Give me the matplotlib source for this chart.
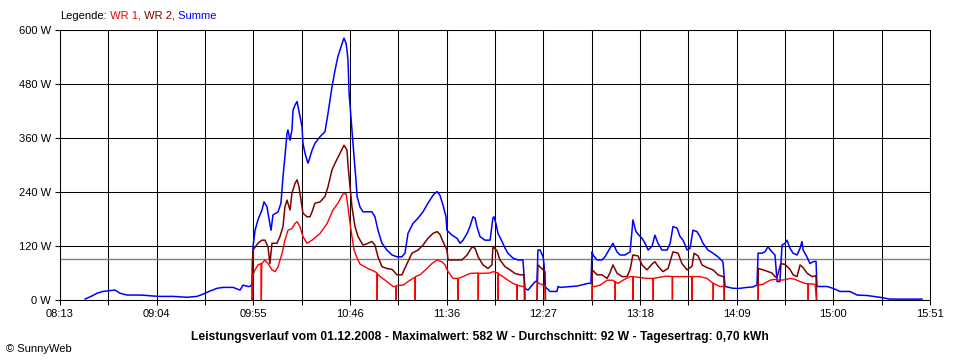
import numpy as np
import matplotlib.pyplot as plt

plt.rcParams['font.family'] = ['Liberation Sans', 'DejaVu Sans']
plt.rcParams['font.size'] = 8

nan = np.nan

# Zeit in Minuten seit Mitternacht, Leistung in W
summe_t = [506.2, 509.8, 512.5, 515.6, 519.3, 522.0, 524.6, 528.3, 535.1, 538.8,
           541.4, 545.6, 552.5, 559.9, 565.1, 568.3, 572.0, 575.7, 578.8, 584.1,
           587.8, 589.3, 592.0, 593.0, 594.1, 594.6, 595.7, 597.2, 599.3, 600.4,
           602.0, 602.5, 604.1, 605.1, 607.8, 609.3, 610.4, 611.4, 612.5, 613.0,
           614.1, 615.1, 615.7, 616.7, 617.8, 618.3, 619.3, 620.4, 620.9, 622.0,
           623.0, 623.6, 624.6, 625.7, 627.2, 629.9, 632.5, 634.1, 636.2, 637.8,
           639.3, 641.5, 642.5, 643.6, 644.1, 644.6, 645.2, 646.2, 646.7, 647.8,
           648.8, 649.4, 650.9, 652.5, 654.6, 657.2, 658.8, 660.4, 662.5, 665.1,
           667.8, 670.4, 673.0, 674.6, 676.2, 678.8, 681.5, 684.1, 686.7, 689.4,
           691.5, 693.0, 694.6, 696.2, 696.7, 699.4, 702.0, 703.6, 705.2, 707.3,
           708.8, 710.4, 711.5, 712.5, 714.1, 716.7, 719.4, 720.9, 721.5, 722.5,
           723.6, 725.7, 727.3, 728.8, 731.5, 734.1, 736.7, 737.8, 739.4, 741.5,
           743.1, 744.1, 744.6, 745.7, 747.3, 747.8, 748.3, 751.0, 754.6, 755.2,
           756.2, 765.2, 771.0, 772.5, 773.1, 773.6, 775.7, 778.3, 779.9, 782.5,
           784.1, 786.2, 787.8, 790.4, 793.1, 794.1, 794.6, 796.2, 797.8, 799.4,
           801.0, 802.6, 804.7, 806.2, 807.8, 809.9, 812.6, 814.2, 815.7, 817.8,
           819.4, 821.0, 823.1, 824.7, 826.2, 828.3, 829.9, 831.5, 834.1, 836.8,
           839.4, 842.0, 843.1, 847.3, 851.0, 854.7, 857.8, 859.9, 860.5, 862.5,
           864.1, 865.7, 867.8, 869.4, 870.5, 872.0, 873.1, 874.7, 875.7, 877.3,
           878.9, 881.0, 882.6, 883.6, 884.2, 886.2, 887.8, 889.4, 891.0, 891.5,
           896.8, 899.9, 903.6, 908.9, 912.6, 917.8, 924.7, 929.9, 938.9, 946.8]
summe_w = [2, 9, 15, 19, 21, 22, 15, 11, 11, 10,
           9, 8, 8, 6, 8, 13, 20, 26, 28, 28,
           22, 33, 30, 30, 35, 118, 155, 178, 200, 218,
           207, 193, 155, 189, 196, 215, 274, 318, 370, 378,
           355, 378, 422, 433, 441, 430, 407, 385, 348, 326,
           311, 304, 318, 333, 348, 363, 374, 415, 474, 511,
           541, 570, 582, 570, 555, 533, 459, 407, 378, 318,
           267, 230, 207, 196, 196, 196, 185, 155, 126, 111,
           100, 96, 96, 104, 148, 170, 182, 196, 215, 233,
           241, 233, 211, 185, 155, 144, 137, 126, 133, 148,
           163, 185, 182, 163, 141, 133, 133, 182, 185, 170,
           148, 130, 115, 104, 93, 89, 89, 26, 22, 33,
           41, 41, 111, 111, 96, 80, 30, 19, 19, 30,
           28, 31, 37, 37, 107, 100, 89, 89, 96, 115,
           126, 107, 100, 100, 107, 152, 178, 152, 144, 137,
           126, 111, 120, 144, 126, 111, 111, 126, 163, 160,
           141, 133, 111, 115, 155, 152, 141, 126, 111, 104,
           96, 85, 30, 26, 26, 28, 29, 33, 104, 104,
           107, 118, 107, 100, 41, 41, 122, 126, 133, 115,
           104, 100, 115, 130, 111, 96, 81, 85, 86, 30,
           30, 26, 19, 19, 11, 10, 6, 2, 2, 2]

wr2_t = [594.1, 594.3, 594.6, 597.2, 599.3, 600.9, 602.5, 603.5, 604.6, 607.2,
         608.8, 610.4, 611.4, 612.5, 614.1, 615.1, 616.7, 617.8, 618.8, 620.4,
         620.9, 623.0, 624.6, 625.7, 627.2, 629.9, 632.5, 634.1, 636.2, 637.8,
         640.4, 642.5, 644.1, 644.6, 645.7, 646.7, 648.3, 649.9, 652.5, 654.6,
         657.2, 658.8, 660.4, 662.5, 665.1, 667.8, 670.4, 673.0, 675.7, 678.3,
         681.5, 684.1, 686.7, 689.4, 691.5, 693.0, 694.6, 696.7, 697.3, 699.9,
         702.5, 704.6, 707.3, 709.9, 711.5, 713.1, 715.7, 718.3, 720.4, 720.9,
         723.0, 724.6, 727.3, 729.9, 732.5, 735.2, 737.3, 737.5, 740.0, 744.1,
         744.6, 748.3, 748.6, 760.0, 773.1, 773.2, 775.7, 778.3, 781.0, 782.5,
         784.1, 786.2, 788.9, 791.5, 793.1, 794.6, 797.3, 799.4, 802.0, 804.7,
         806.2, 807.8, 810.4, 813.1, 815.7, 818.4, 820.4, 823.1, 825.7, 826.8,
         828.9, 831.0, 833.6, 836.8, 839.4, 842.0, 842.5, 842.8, 850.0, 860.5,
         860.6, 863.1, 865.7, 867.8, 869.4, 870.5, 872.4, 874.7, 877.3, 878.9,
         881.0, 882.6, 884.2, 886.2, 888.9, 891.0, 891.3]
wr2_w = [0, 81, 111, 126, 133, 133, 118, 81, 126, 126,
         141, 163, 207, 222, 200, 237, 259, 267, 252, 207,
         193, 185, 185, 196, 215, 218, 230, 252, 289, 304,
         326, 344, 333, 300, 252, 207, 163, 141, 122, 125,
         130, 122, 96, 74, 70, 68, 56, 56, 81, 104,
         111, 122, 137, 148, 152, 146, 130, 111, 89, 89,
         89, 89, 100, 118, 115, 96, 78, 70, 78, 118,
         110, 89, 74, 67, 59, 56, 56, 0, nan, 0,
         78, 63, 0, nan, 0, 67, 56, 56, 48, 60,
         78, 60, 52, 52, 67, 100, 98, 78, 67, 80,
         85, 75, 63, 70, 107, 104, 81, 67, 75, 104,
         98, 78, 72, 67, 56, 52, 52, 0, nan, 0,
         70, 67, 63, 60, 52, 50, 81, 79, 68, 56,
         52, 78, 72, 60, 52, 54, 0]

wr1_t = [594.1, 594.3, 595.7, 597.2, 598.8, 599.0, 599.2, 600.9, 602.5, 604.6,
         606.2, 607.8, 609.9, 611.4, 613.0, 615.1, 616.7, 617.8, 619.3, 620.9,
         623.0, 625.7, 629.9, 633.6, 636.7, 639.3, 642.0, 643.6, 644.6, 645.7,
         646.7, 647.8, 649.4, 650.9, 655.1, 658.8, 659.9, 660.0, 660.1, 661.5,
         665.1, 668.3, 669.9, 670.0, 670.1, 673.6, 676.2, 678.8, 679.9, 680.0,
         680.1, 682.5, 686.2, 688.8, 691.5, 694.1, 695.7, 697.3, 699.9, 702.5,
         702.6, 702.7, 705.2, 708.8, 713.1, 713.2, 713.3, 719.4, 720.9, 723.6,
         723.7, 723.8, 726.2, 728.8, 731.5, 733.6, 733.7, 733.8, 736.7, 737.8,
         737.9, 740.0, 744.1, 744.2, 747.3, 748.3, 748.4, 760.0, 773.1, 773.2,
         774.6, 777.3, 781.0, 784.1, 785.2, 785.3, 785.4, 786.8, 789.4, 793.1,
         794.6, 794.7, 794.8, 798.3, 802.0, 805.2, 805.3, 805.4, 812.1, 815.3,
         815.4, 815.5, 822.6, 825.7, 825.8, 825.9, 829.9, 833.6, 836.8, 836.9,
         837.0, 840.4, 842.5, 842.6, 850.0, 860.5, 860.6, 863.1, 866.8, 869.4,
         872.0, 874.7, 877.3, 879.9, 882.6, 885.2, 886.8, 886.9, 887.0, 890.5,
         891.3]
wr1_w = [0, 52, 67, 78, 81, 0, 81, 89, 81, 67,
         63, 74, 104, 133, 155, 159, 170, 174, 163, 141,
         126, 133, 148, 170, 200, 215, 236, 236, 207, 170,
         141, 111, 93, 80, 70, 63, 60, 0, 58, 52,
         41, 30, 30, 0, 32, 33, 41, 48, 50, 0,
         52, 56, 70, 81, 89, 85, 78, 63, 48, 48,
         0, 48, 52, 59, 60, 0, 59, 60, 63, 60,
         0, 58, 52, 44, 37, 33, 0, 33, 30, 30,
         0, nan, 0, 39, 33, 30, 0, nan, 0, 30,
         30, 33, 44, 44, 40, 0, 40, 37, 44, 52,
         52, 0, 52, 50, 48, 48, 0, 48, 53, 52,
         0, 52, 52, 52, 0, 52, 52, 48, 37, 0,
         37, 30, 30, 0, nan, 0, 33, 35, 44, 46,
         44, 45, 48, 46, 41, 37, 36, 0, 36, 35,
         0]

t_start = 493   # 08:13
t_end = 951     # 15:51
x_labels = ["08:13", "09:04", "09:55", "10:46", "11:36",
            "12:27", "13:18", "14:09", "15:00", "15:51"]
y_ticks = [0, 120, 240, 360, 480, 600]
durchschnitt = 92

fig = plt.figure(figsize=(9.6, 3.6), dpi=100)
ax = fig.add_axes([60 / 960, 60 / 360, 870 / 960, 270 / 360])

ax.axhline(durchschnitt, color="#808080", lw=1.0, zorder=1.5)
ax.plot(summe_t, summe_w, color="#0000ff", lw=1.1, zorder=2)
ax.plot(wr2_t, wr2_w, color="#800000", lw=1.1, zorder=3)
ax.plot(wr1_t, wr1_w, color="#ff0000", lw=1.0, zorder=4)

ax.set_xlim(t_start, t_end)
ax.set_ylim(0, 600)
xt = np.linspace(t_start, t_end, 19)
ax.set_xticks(xt)
lab = []
for i in range(19):
    lab.append(x_labels[i // 2] if i % 2 == 0 else "")
ax.set_xticklabels(lab)
ax.set_yticks(y_ticks)
ax.set_yticklabels([str(v) + " W" for v in y_ticks])

ax.grid(True, color="black", lw=0.75)
ax.set_axisbelow(True)
for s in ax.spines.values():
    s.set_color("black")
    s.set_linewidth(0.75)
ax.tick_params(length=3.6, width=0.75, pad=3, colors="black")

# Legende oben links
prev = fig.text(60 / 960, 1 - 16 / 360, "Legende:", color="black", va="center")
for s, c in [(" WR 1,", "#ff0000"), (" WR 2,", "#800000"), (" Summe", "#0000ff")]:
    prev = ax.annotate(s, xy=(1, 0.5), xycoords=prev, va="center", ha="left",
                       color=c, annotation_clip=False)

fig.text(0.5, 1 - 337 / 360,
         "Leistungsverlauf vom 01.12.2008 - Maximalwert: 582 W - Durchschnitt: 92 W - Tagesertrag: 0,70 kWh",
         ha="center", va="center", fontweight="bold", fontsize=8.7)
fig.text(6 / 960, 1 - 349 / 360, "\u00a9 SunnyWeb", ha="left", va="center")

fig.savefig("out.png", dpi=100)
